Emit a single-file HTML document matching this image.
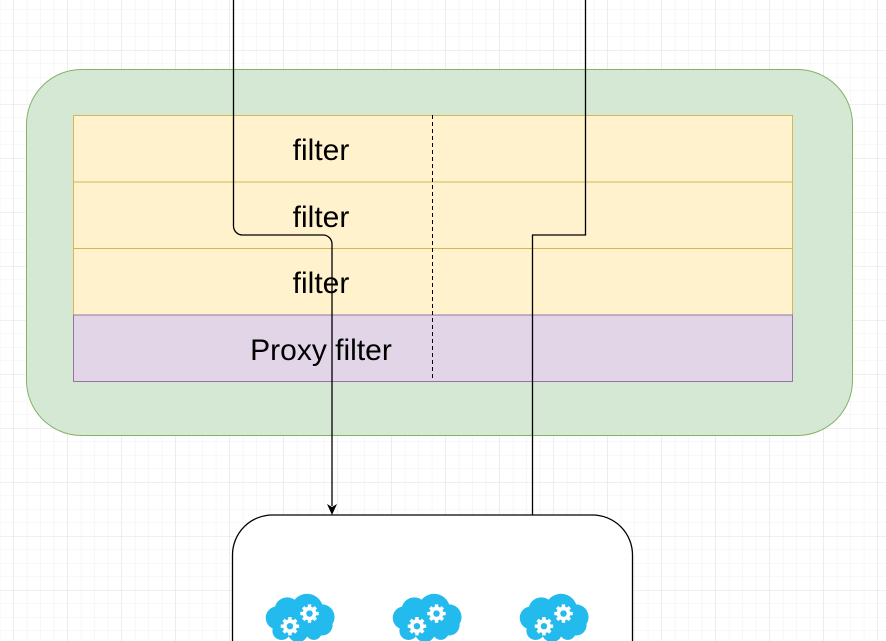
<!DOCTYPE html>
<html><head><meta charset="utf-8"><style>
html,body{margin:0;padding:0;width:886px;height:641px;overflow:hidden;background:#fff}
</style></head><body>
<svg width="886" height="641" viewBox="0 0 886 641" xmlns="http://www.w3.org/2000/svg">
<defs>
<pattern id="minor" x="13.3" y="-4" width="13.5" height="13.5" patternUnits="userSpaceOnUse">
<path d="M0 0H13.5M0 0V13.5" stroke="#f0f0f0" stroke-width="1" fill="none"/>
</pattern>
<pattern id="major" x="13.3" y="50" width="54" height="54" patternUnits="userSpaceOnUse">
<path d="M0 0H54M0 0V54" stroke="#e2e2e2" stroke-width="1" fill="none"/>
</pattern>
<g id="cloud">
<path d="M-22 10 a10 10 0 0 1 2-19 a11 11 0 0 1 17-6 a14 14 0 0 1 24 4 a11 11 0 0 1 9 17 a9 9 0 0 1 -10 10 a7 7 0 0 1 -12 1 a9 9 0 0 1 -16 0 a8 8 0 0 1 -14 -7z" fill="#23bbee"/>
<g fill="#fff">
<circle cx="-7" cy="8" r="6"/>
<circle cx="10" cy="-3" r="6"/>
<g stroke="#fff" stroke-width="3">
<path d="M-7 0v16M-15 8h16M-12.5 2.5l11 11M-12.5 13.5l11-11"/>
<path d="M10 -11v16M2 -3h16M4.5 -8.5l11 11M4.5 2.5l11-11"/>
</g>
</g>
<circle cx="-7" cy="8" r="2.8" fill="#23bbee"/>
<circle cx="10" cy="-3" r="2.8" fill="#23bbee"/>
</g>
</defs>
<rect width="886" height="641" fill="url(#minor)"/>
<rect width="886" height="641" fill="url(#major)"/>
<rect x="26.5" y="69.5" width="826" height="366" rx="55" fill="#d5e8d4" stroke="#82b366"/>
<rect x="73.5" y="115.5" width="719" height="66.5" fill="#fff2cc" stroke="#d6b656"/>
<rect x="73.5" y="182" width="719" height="66.5" fill="#fff2cc" stroke="#d6b656"/>
<rect x="73.5" y="248.5" width="719" height="66.5" fill="#fff2cc" stroke="#d6b656"/>
<rect x="73.5" y="315" width="719" height="66.5" fill="#e1d5e7" stroke="#9673a6"/>
<line x1="432.5" y1="115" x2="432.5" y2="381" stroke="#000" stroke-dasharray="4 3"/>
<g font-family="Liberation Sans, sans-serif" font-size="30" fill="#000" text-anchor="middle">
<text x="321" y="160">filter</text>
<text x="321" y="227">filter</text>
<text x="321" y="293">filter</text>
<text x="321" y="360">Proxy filter</text>
</g>
<path d="M233.5 0V226a9 9 0 0 0 9 9H323a9 9 0 0 1 9 9V506" fill="none" stroke="#000" stroke-width="1.3"/>
<path d="M332 515l-5-11 5 3 5-3z" fill="#000"/>
<path d="M585.5 0V235H532.5V515" fill="none" stroke="#000" stroke-width="1.3"/>
<path d="M232.5 660V555a40 40 0 0 1 40-40H592.5a40 40 0 0 1 40 40V660" fill="#fff" stroke="#000" stroke-width="1.3"/>
<use href="#cloud" transform="translate(298 617) scale(1.15)"/>
<use href="#cloud" transform="translate(425 617) scale(1.15)"/>
<use href="#cloud" transform="translate(552 617) scale(1.15)"/>
</svg>
</body></html>
